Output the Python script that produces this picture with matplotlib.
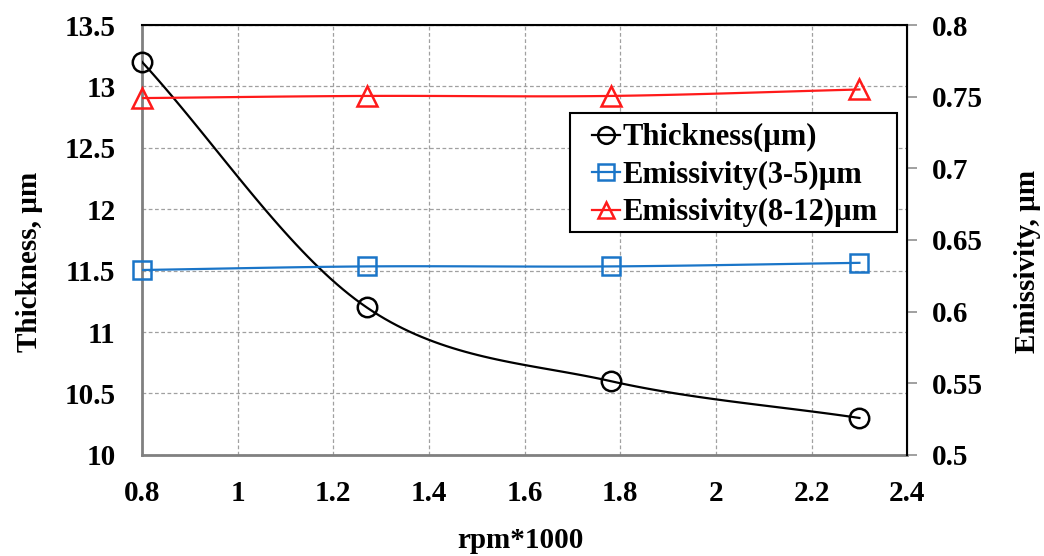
import numpy as np
import matplotlib
matplotlib.use('Agg')
import matplotlib.pyplot as plt
from matplotlib.lines import Line2D
from matplotlib.patches import Rectangle

plt.rcParams['font.family'] = ['Liberation Serif', 'DejaVu Serif']
plt.rcParams['font.weight'] = 'bold'
plt.rcParams['axes.labelweight'] = 'bold'

rpm = [0.8, 1.27, 1.78, 2.3]
thickness = [13.2, 11.2, 10.6, 10.3]
emis_3_5 = [0.629, 0.6315, 0.6315, 0.634]
emis_8_12 = [0.749, 0.7505, 0.7505, 0.755]

xticks = [0.8, 1, 1.2, 1.4, 1.6, 1.8, 2, 2.2, 2.4]
yticks_left = [10, 10.5, 11, 11.5, 12, 12.5, 13, 13.5]
yticks_right = [0.5, 0.55, 0.6, 0.65, 0.7, 0.75, 0.8]


def smooth(x, y, n=40):
    # Excel style smoothed line (Catmull-Rom through the points)
    x = np.asarray(x, float)
    y = np.asarray(y, float)
    px = np.concatenate([[2 * x[0] - x[1]], x, [2 * x[-1] - x[-2]]])
    py = np.concatenate([[2 * y[0] - y[1]], y, [2 * y[-1] - y[-2]]])
    xs, ys = [], []
    t = np.linspace(0, 1, n)
    for i in range(1, len(px) - 2):
        c1x = px[i] + (px[i + 1] - px[i - 1]) / 6
        c1y = py[i] + (py[i + 1] - py[i - 1]) / 6
        c2x = px[i + 1] - (px[i + 2] - px[i]) / 6
        c2y = py[i + 1] - (py[i + 2] - py[i]) / 6
        bx = (1 - t) ** 3 * px[i] + 3 * (1 - t) ** 2 * t * c1x + 3 * (1 - t) * t ** 2 * c2x + t ** 3 * px[i + 1]
        by = (1 - t) ** 3 * py[i] + 3 * (1 - t) ** 2 * t * c1y + 3 * (1 - t) * t ** 2 * c2y + t ** 3 * py[i + 1]
        xs.extend(bx)
        ys.extend(by)
    return xs, ys


fig = plt.figure(figsize=(10.44, 5.56), dpi=100)
ax = fig.add_axes([0.136, 0.182, 0.733, 0.773])
ax2 = ax.twinx()

blue = '#1a75c8'
red = '#ff1a1a'

sx, sy = smooth(rpm, thickness)
ax.plot(sx, sy, color='black', lw=1.6, zorder=3)
ax.plot(rpm, thickness, 'o', ms=14, mfc='none', mec='black', mew=1.8, zorder=4, clip_on=False)

sx, sy = smooth(rpm, emis_3_5)
ax2.plot(sx, sy, color=blue, lw=1.6)
ax2.plot(rpm, emis_3_5, 's', ms=13, mfc='none', mec=blue, mew=1.8, clip_on=False)
sx, sy = smooth(rpm, emis_8_12)
ax2.plot(sx, sy, color=red, lw=1.6)
ax2.plot(rpm, emis_8_12, '^', ms=14, mfc='none', mec=red, mew=1.8, clip_on=False)

ax.set_xlim(0.8, 2.4)
ax.set_ylim(10, 13.5)
ax2.set_ylim(0.5, 0.8)
ax.set_xticks(xticks)
ax.set_xticklabels([f'{v:g}' for v in xticks])
ax.set_yticks(yticks_left)
ax.set_yticklabels([f'{v:g}' for v in yticks_left])
ax2.set_yticks(yticks_right)
ax2.set_yticklabels([f'{v:g}' for v in yticks_right])

ax.grid(True, color='#a0a0a0', ls=(0, (3, 2)), lw=0.9)
ax.set_axisbelow(True)
ax.tick_params(axis='y', length=0, labelsize=21, pad=19)
ax.tick_params(axis='x', length=0, labelsize=21, pad=18)
ax2.tick_params(axis='y', length=7, width=1.2, color='#909090', direction='out', labelsize=21, pad=11)

for s in ['left', 'bottom']:
    ax.spines[s].set_color('#808080')
    ax.spines[s].set_linewidth(2)
ax2.spines['left'].set_visible(False)
ax2.spines['bottom'].set_visible(False)
ax2.spines['top'].set_color('black')
ax2.spines['top'].set_linewidth(1.5)
ax2.spines['right'].set_color('black')
ax2.spines['right'].set_linewidth(1.5)

ax.set_xlabel('rpm*1000', fontsize=21)
ax.set_ylabel('Thickness, µm', fontsize=21)
ax2.set_ylabel('Emissivity, µm', fontsize=21)
ax.xaxis.set_label_coords(0.495, -0.168)
ax.yaxis.set_label_coords(-0.129, 0.45)
ax2.yaxis.set_label_coords(1.139, 0.45)

# legend box drawn separately so the padding matches the original
ax2.add_patch(Rectangle((0.5595, 0.5175), 0.4275, 0.2774, transform=ax2.transAxes,
                        facecolor='white', edgecolor='black', lw=1.5, zorder=5))
handles = [
    Line2D([], [], color='black', marker='o', ms=12, mfc='none', mew=1.8, lw=1.6),
    Line2D([], [], color=blue, marker='s', ms=11, mfc='none', mew=1.8, lw=1.6),
    Line2D([], [], color=red, marker='^', ms=12, mfc='none', mew=1.8, lw=1.6),
]
labels = ['Thickness(µm)', 'Emissivity(3-5)µm', 'Emissivity(8-12)µm']
leg = ax2.legend(handles, labels, loc='upper left', bbox_to_anchor=(0.5765, 0.793),
                 fontsize=22, frameon=False, handlelength=0.9,
                 handletextpad=0.1, borderpad=0.3, labelspacing=0.28, borderaxespad=0)
leg.set_zorder(6)

fig.savefig('out.png', dpi=100)
